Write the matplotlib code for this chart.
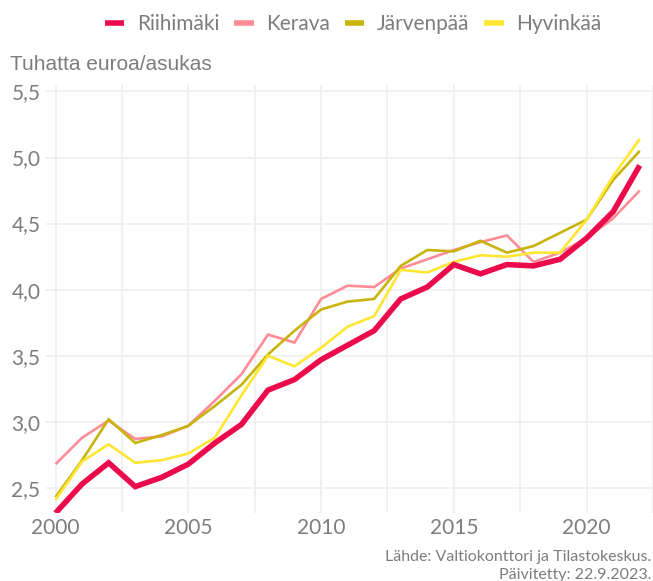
import numpy as np
import matplotlib
matplotlib.use("Agg")
import matplotlib.pyplot as plt
from matplotlib.ticker import MultipleLocator, FuncFormatter

# Tuhatta euroa / asukas, vuodet 2000-2022
years = np.arange(2000, 2023)
riihimaki = [2.31, 2.53, 2.69, 2.51, 2.58, 2.68, 2.84, 2.98, 3.24, 3.32, 3.47, 3.58,
             3.69, 3.93, 4.02, 4.19, 4.12, 4.19, 4.18, 4.23, 4.39, 4.59, 4.94]
kerava = [2.68, 2.88, 3.01, 2.87, 2.89, 2.97, 3.16, 3.36, 3.66, 3.60, 3.93, 4.03,
          4.02, 4.16, 4.23, 4.30, 4.36, 4.41, 4.21, 4.28, 4.39, 4.54, 4.75]
jarvenpaa = [2.43, 2.71, 3.02, 2.84, 2.90, 2.97, 3.12, 3.28, 3.51, 3.69, 3.85, 3.91,
             3.93, 4.18, 4.30, 4.29, 4.37, 4.28, 4.33, 4.43, 4.53, 4.83, 5.05]
hyvinkaa = [2.41, 2.70, 2.83, 2.69, 2.71, 2.76, 2.88, 3.20, 3.50, 3.42, 3.56, 3.72,
            3.80, 4.15, 4.13, 4.21, 4.26, 4.25, 4.28, 4.28, 4.53, 4.86, 5.14]

names = ["Riihimäki", "Kerava", "Järvenpää", "Hyvinkää"]
colors = ["#EB0A4B", "#FF8C96", "#C8B40A", "#FFE632"]
widths = [4.0, 1.9, 1.9, 1.9]
series = [riihimaki, kerava, jarvenpaa, hyvinkaa]

txt = "#7d7d7d"
fig = plt.figure(figsize=(6.53, 5.81), dpi=100)
ax = fig.add_axes([0.081, 0.117, 0.919, 0.737])

# paksu viiva piirretään viimeisenä päällimmäiseksi
order = [1, 2, 3, 0]
handles = {}
for i in order:
    ln, = ax.plot(years, series[i], color=colors[i], lw=widths[i],
                  solid_joinstyle="miter", solid_capstyle="butt", zorder=3)
    handles[i] = ln

ax.set_xlim(1999.9, 2022.5)
ax.set_ylim(2.31, 5.55)
ax.xaxis.set_major_locator(MultipleLocator(5))
ax.xaxis.set_minor_locator(MultipleLocator(2.5))
ax.yaxis.set_major_locator(MultipleLocator(0.5))
ax.yaxis.set_major_formatter(FuncFormatter(lambda v, p: f"{v:.1f}".replace(".", ",")))
ax.grid(which="major", color="#f0f0f0", lw=1.3)
ax.grid(which="minor", axis="x", color="#f0f0f0", lw=1.3)
for s in ax.spines.values():
    s.set_visible(False)
ax.tick_params(axis="both", which="both", length=0, labelsize=15, labelcolor=txt)
ax.tick_params(axis="y", length=5, color="#f0f0f0", width=1.3, pad=4)
for lab in ax.get_xticklabels() + ax.get_yticklabels():
    lab.set_family("Lato")

fig.text(10 / 653, 1 - 65 / 581, "Tuhatta euroa/asukas", fontsize=15, color=txt,
         family="Liberation Sans", va="center", ha="left")

leg = fig.legend([handles[i] for i in range(4)], names, loc="center",
                 bbox_to_anchor=(353 / 653, 1 - 24 / 581), ncol=4, frameon=False,
                 handlelength=0.95, handletextpad=0.6, columnspacing=0.7,
                 prop={"family": "Lato", "size": 15})
for t in leg.get_texts():
    t.set_color(txt)
for h in leg.legend_handles:
    h.set_linewidth(4)

fig.text(651 / 653, 1 - 557 / 581, "Lähde: Valtiokonttori ja Tilastokeskus.",
         ha="right", va="center", fontsize=11.5, color=txt, family="Lato")
fig.text(651 / 653, 1 - 575 / 581, "Päivitetty: 22.9.2023.",
         ha="right", va="center", fontsize=11.5, color=txt, family="Lato")

fig.savefig("out.png", dpi=100)
